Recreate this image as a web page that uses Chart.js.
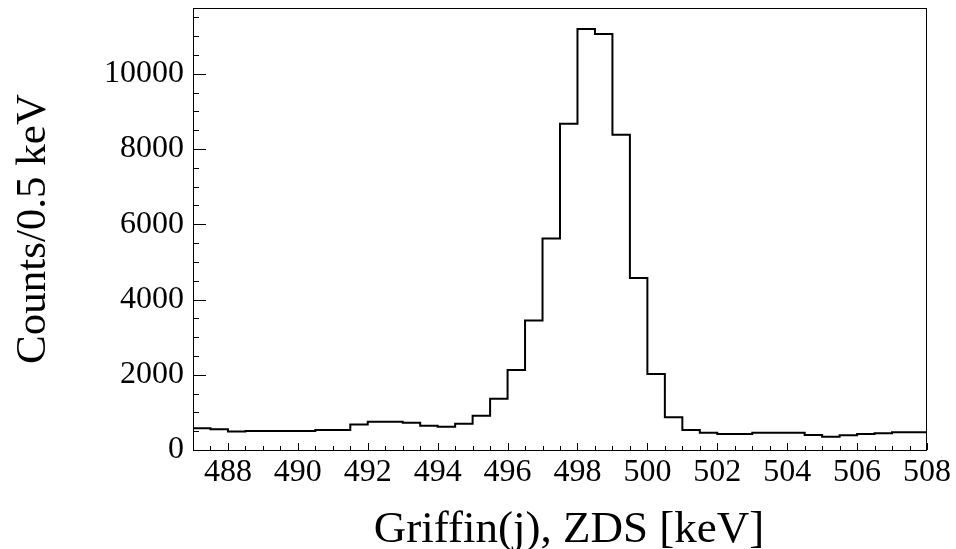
<!DOCTYPE html>
<html>
<head>
<meta charset="utf-8">
<script src="https://cdn.jsdelivr.net/npm/chart.js@4.4.1/dist/chart.umd.min.js"></script>
<style>
  html, body { margin: 0; padding: 0; background: #fff; }
  #wrap { width: 956px; height: 549px; position: relative; }
</style>
</head>
<body>
<div id="wrap"><canvas id="hist"></canvas></div>
<script>
// histogram: 0.5 keV bins from 487 to 508 keV
const binStart = 487;
const binWidth = 0.5;
const counts = [
  575, 550, 490, 505, 505, 505, 505, 530, 530, 680,
  750, 750, 725, 645, 620, 700, 910, 1360, 2130, 3440,
  5620, 8670, 11190, 11060, 8380, 4570, 2020, 870, 530, 460,
  425, 425, 460, 460, 460, 400, 355, 390, 425, 445,
  470, 470
];
const xTickLabels = [488, 490, 492, 494, 496, 498, 500, 502, 504, 506, 508];
const yTickLabels = [0, 2000, 4000, 6000, 8000, 10000];
const xMinorStep = 0.5;
const yMinorStep = 500;
const xRange = [487, 508];
const yRange = [0, 11750];
const xTitle = 'Griffin(j), ZDS [keV]';
const yTitle = 'Counts/0.5 keV';

const serif = '"Liberation Serif", "DejaVu Serif", serif';

// step points at the bin low edges, plus the closing edge
let points = counts.map((c, i) => ({ x: binStart + i * binWidth, y: c }));
points.push({ x: binStart + counts.length * binWidth, y: counts[counts.length - 1] });

// frame, inner ticks and x title, ROOT style
const frameTicks = {
  id: 'frameTicks',
  afterDraw(chart) {
    const ctx = chart.ctx;
    const area = chart.chartArea;
    const xs = chart.scales.x, ys = chart.scales.y;
    ctx.save();
    ctx.strokeStyle = '#000';
    ctx.lineWidth = 1;
    ctx.beginPath();
    for (let v = xRange[0]; v <= xRange[1] + 1e-9; v += xMinorStep) {
      const px = Math.round(xs.getPixelForValue(v)) + 0.5;
      const len = xTickLabels.includes(v) ? 7 : 4;
      ctx.moveTo(px, area.bottom);
      ctx.lineTo(px, area.bottom - len);
    }
    for (let v = yRange[0]; v <= yRange[1]; v += yMinorStep) {
      const py = Math.round(ys.getPixelForValue(v)) + 0.5;
      const len = yTickLabels.includes(v) ? 13 : 6;
      ctx.moveTo(area.left, py);
      ctx.lineTo(area.left + len, py);
    }
    ctx.stroke();
    ctx.strokeRect(Math.round(area.left) + 0.5, Math.round(area.top) + 0.5,
      Math.round(area.right - area.left) - 1, Math.round(area.bottom - area.top));

    // x title sits a little right of centre, as in the original
    ctx.fillStyle = '#000';
    ctx.font = '45px ' + serif;
    ctx.textAlign = 'center';
    ctx.textBaseline = 'alphabetic';
    ctx.fillText(xTitle, (area.left + area.right) / 2 + 9, 542);
    ctx.restore();
  }
};

new Chart(document.getElementById('hist'), {
  type: 'line',
  data: {
    datasets: [{
      data: points,
      stepped: 'before',
      borderColor: '#000',
      borderWidth: 2,
      pointRadius: 0,
      fill: false
    }]
  },
  options: {
    responsive: true,
    maintainAspectRatio: false,
    animation: false,
    events: [],
    layout: { padding: { top: 8, right: 29, left: 0, bottom: 0 } },
    plugins: { legend: { display: false }, tooltip: { enabled: false } },
    scales: {
      x: {
        type: 'linear',
        min: xRange[0],
        max: xRange[1],
        grid: { display: false, drawTicks: false },
        border: { display: false },
        afterBuildTicks: (s) => { s.ticks = xTickLabels.map(v => ({ value: v })); },
        afterFit: (s) => { s.height = 99; s.paddingLeft = 0; s.paddingRight = 0; },
        ticks: {
          autoSkip: false,
          maxRotation: 0,
          padding: 3,
          color: '#000',
          font: { family: serif, size: 32 },
          callback: (v) => String(v)
        }
      },
      y: {
        type: 'linear',
        min: yRange[0],
        max: yRange[1],
        grid: { display: false, drawTicks: false },
        border: { display: false },
        afterBuildTicks: (s) => { s.ticks = yTickLabels.map(v => ({ value: v })); },
        afterFit: (s) => { s.width = 193; s.paddingTop = 0; s.paddingBottom = 0; },
        ticks: {
          padding: 9,
          color: '#000',
          font: { family: serif, size: 32 },
          callback: (v) => String(v)
        },
        title: {
          display: true,
          text: yTitle,
          color: '#000',
          padding: { top: 12, bottom: 0 },
          font: { family: serif, size: 43, lineHeight: 1 }
        }
      }
    }
  },
  plugins: [frameTicks]
});
</script>
</body>
</html>
